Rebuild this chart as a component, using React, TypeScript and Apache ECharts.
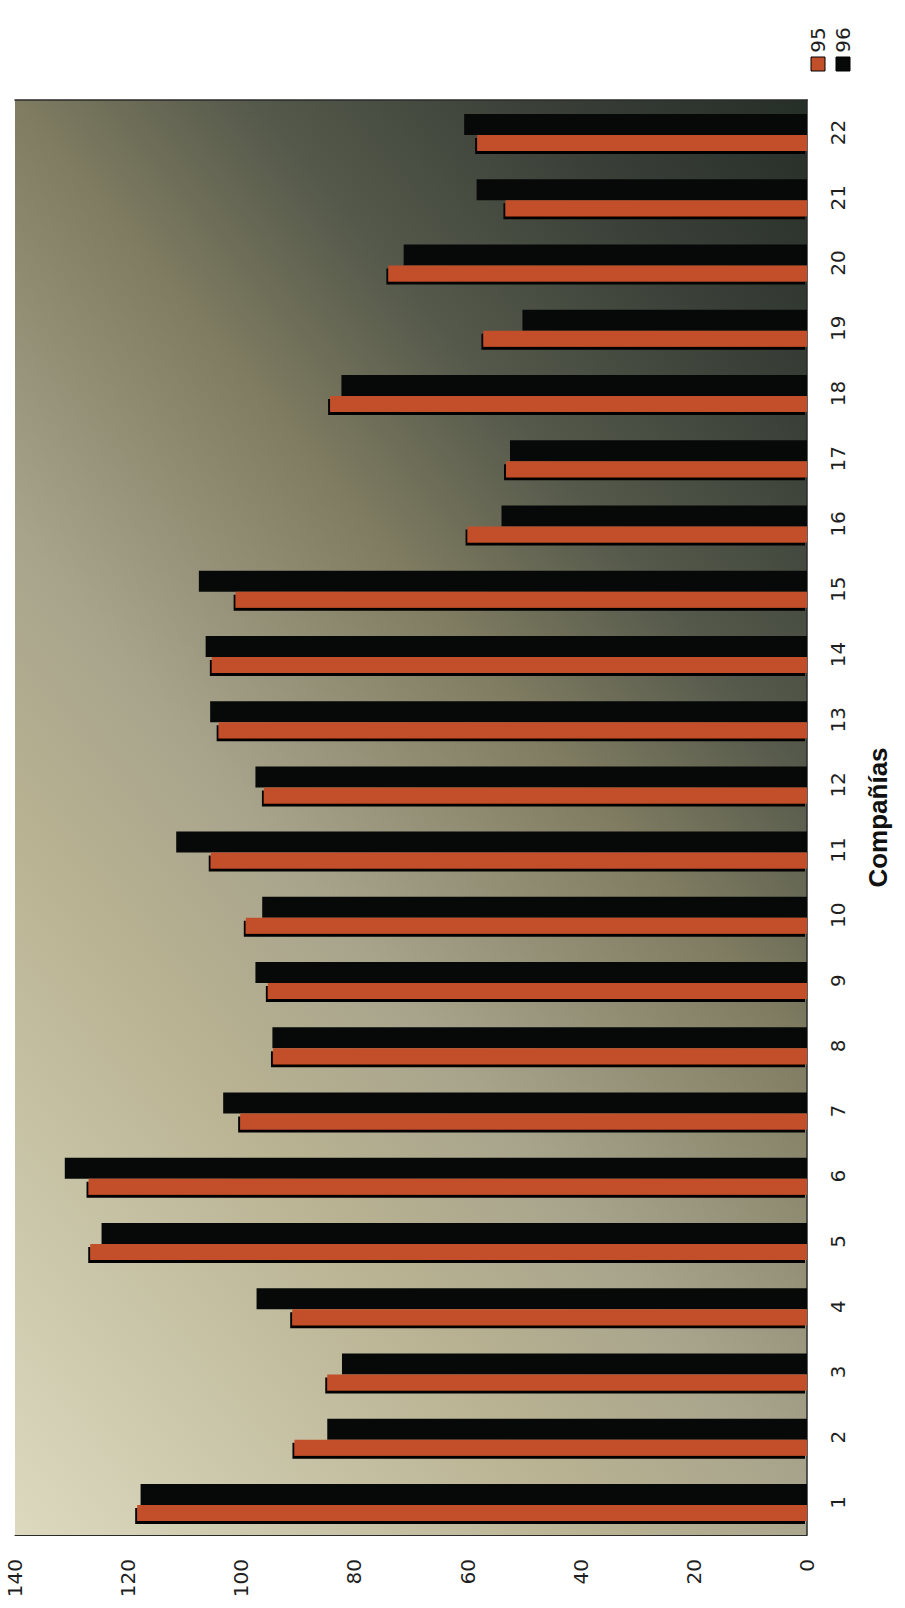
import React, { useEffect, useRef } from 'react';
import * as echarts from 'echarts';

const categories = ['1', '2', '3', '4', '5', '6', '7', '8', '9', '10', '11', '12', '13', '14', '15', '16', '17', '18', '19', '20', '21', '22'];
const values95 = [118.4, 90.6, 84.8, 91.0, 126.7, 127.0, 100.2, 94.4, 95.3, 99.2, 105.4, 96.0, 104.0, 105.2, 101.0, 60.0, 53.2, 84.3, 57.2, 74.0, 53.3, 58.3];
const values96 = [117.8, 84.8, 82.2, 97.3, 124.7, 131.2, 103.2, 94.5, 97.5, 96.3, 111.5, 97.5, 105.5, 106.3, 107.5, 54.0, 52.5, 82.3, 50.3, 71.3, 58.4, 60.6];
const valueTicks = { min: 0, max: 140, interval: 20 };
const seriesNames = ['95', '96'];
const axisTitle = 'Compañías';

const ORANGE = '#c24f2a';
const BLACK = '#060908';

export default function App() {
  const ref = useRef<HTMLDivElement>(null);
  useEffect(() => {
    if (!ref.current) return;
    const chart = echarts.init(ref.current, undefined, { renderer: 'svg' });
    const labelFont = { fontFamily: 'DejaVu Sans', fontSize: 20, color: '#1e1e1e' };
    const option = {
      animation: false,
      backgroundColor: '#ffffff',
      grid: {
        left: 15,
        right: 98,
        top: 100,
        bottom: 73,
        show: true,
        borderWidth: 0,
        backgroundColor: new echarts.graphic.LinearGradient(0, 1, 0.769, -0.154, [
          { offset: 0, color: '#dcd9bf' },
          { offset: 0.3, color: '#b8b292' },
          { offset: 0.42, color: '#a8a48c' },
          { offset: 0.6, color: '#7f7c61' },
          { offset: 0.72, color: '#55594b' },
          { offset: 0.86, color: '#3a4038' },
          { offset: 1, color: '#262e28' },
        ]),
      },
      xAxis: [
        {
          type: 'value',
          inverse: true,
          min: valueTicks.min,
          max: valueTicks.max,
          interval: valueTicks.interval,
          position: 'bottom',
          axisLine: { show: true, lineStyle: { color: '#2a2a2a', width: 1 } },
          axisTick: { show: false },
          splitLine: { show: false },
          axisLabel: { rotate: 90, margin: 24, ...labelFont },
        },
        {
          type: 'value',
          inverse: true,
          min: valueTicks.min,
          max: valueTicks.max,
          interval: valueTicks.interval,
          position: 'top',
          axisLine: { show: true, lineStyle: { color: '#2a2a2a', width: 1.5 } },
          axisTick: { show: false },
          splitLine: { show: false },
          axisLabel: { show: false },
        },
      ],
      yAxis: [
        {
          type: 'category',
          data: categories,
          position: 'right',
          axisLine: { show: false },
          axisTick: { show: false },
          axisLabel: { rotate: 90, margin: 21, ...labelFont },
          name: axisTitle,
          nameLocation: 'middle',
          nameRotate: 90,
          nameGap: 58,
          nameTextStyle: { fontFamily: 'Liberation Sans', fontWeight: 'bold', fontSize: 26, color: '#111' },
        },
        {
          type: 'category',
          data: categories,
          position: 'left',
          axisLine: { show: true, lineStyle: { color: '#2a2a2a', width: 1.5 } },
          axisTick: { show: false },
          axisLabel: { show: false },
        },
      ],
      series: [
        {
          name: seriesNames[1],
          type: 'bar',
          data: values96,
          barWidth: 21,
          barGap: '0%',
          itemStyle: { color: BLACK },
        },
        {
          name: seriesNames[0],
          type: 'bar',
          data: values95,
          barWidth: 16,
          barGap: '0%',
          itemStyle: { color: ORANGE, shadowColor: '#000', shadowOffsetX: -2, shadowOffsetY: 3, shadowBlur: 0 },
        },
      ],
      graphic: [
        { type: 'rect', x: 811, y: 57, shape: { width: 14, height: 14 }, style: { fill: ORANGE, stroke: '#000', lineWidth: 1 } },
        { type: 'text', x: 818, y: 40, rotation: Math.PI / 2, style: { text: seriesNames[0], font: '20px "DejaVu Sans"', fill: '#1e1e1e', align: 'center', verticalAlign: 'middle' } },
        { type: 'rect', x: 836, y: 57, shape: { width: 14, height: 14 }, style: { fill: BLACK, stroke: '#000', lineWidth: 1 } },
        { type: 'text', x: 843, y: 40, rotation: Math.PI / 2, style: { text: seriesNames[1], font: '20px "DejaVu Sans"', fill: '#1e1e1e', align: 'center', verticalAlign: 'middle' } },
      ],
    };
    chart.setOption(option as any);
    return () => chart.dispose();
  }, []);
  return <div ref={ref} style={{ position: 'absolute', left: 0, top: 0, width: 905, height: 1608 }} />;
}
